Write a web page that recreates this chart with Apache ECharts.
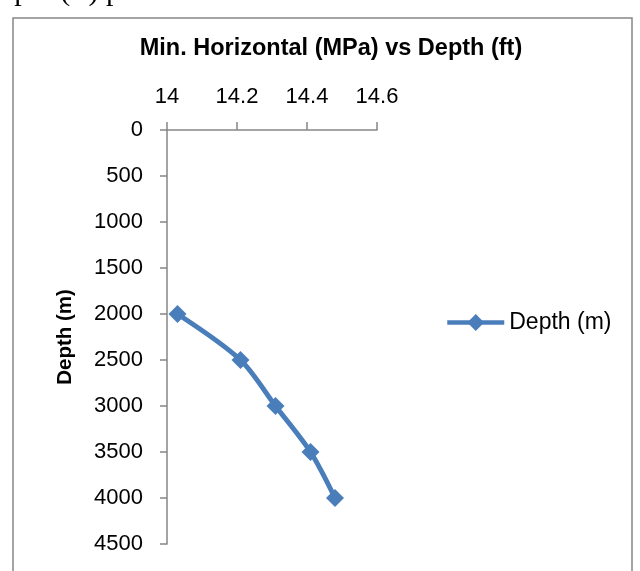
<!DOCTYPE html>
<html>
<head>
<meta charset="utf-8">
<script src="https://cdn.jsdelivr.net/npm/echarts@6/dist/echarts.min.js"></script>
<style>
  html, body { margin: 0; padding: 0; background: #fff; }
  #chart { width: 640px; height: 571px; }
</style>
</head>
<body>
<div id="chart"></div>
<script>
const seriesName = "Depth (m)";
const minHorizontal = [14.03, 14.21, 14.31, 14.41, 14.48];
const depths = [2000, 2500, 3000, 3500, 4000];
const xTicks = [14, 14.2, 14.4, 14.6];
const yTicks = [0, 500, 1000, 1500, 2000, 2500, 3000, 3500, 4000, 4500];

const blue = "#4a7ebb";
const axisGrey = "#868686";
const font = "'Liberation Sans', Arial, sans-serif";

const chart = echarts.init(document.getElementById("chart"));

chart.setOption({
  animation: false,
  backgroundColor: "#fff",
  title: {
    text: "Min. Horizontal (MPa) vs Depth (ft)",
    left: 326,
    top: 32,
    textAlign: "center",
    textStyle: { fontFamily: font, fontSize: 23.5, fontWeight: "bold", color: "#000" },
  },
  graphic: [
    {
      type: "rect",
      shape: { x: 13, y: 18, width: 619, height: 570 },
      style: { fill: "none", stroke: axisGrey, lineWidth: 1.5 },
      silent: true,
    },
    {
      type: "text",
      x: -14,
      y: 7,
      style: {
        text: "depth (ft) plot",
        font: "30px 'Liberation Serif', serif",
        fill: "#000",
        verticalAlign: "bottom",
      },
      silent: true,
    },
  ],
  legend: {
    data: [seriesName],
    left: 440,
    top: 306,
    itemWidth: 57,
    itemHeight: 21,
    itemGap: 4,
    lineStyle: { width: 4.5 },
    textStyle: { fontFamily: font, fontSize: 23, color: "#000", padding: [0, 0, 0, 0] },
  },
  grid: { left: 167, right: 263, top: 130, bottom: 27 },
  xAxis: {
    type: "value",
    position: "top",
    min: xTicks[0],
    max: xTicks[xTicks.length - 1],
    interval: 0.2,
    axisLine: { lineStyle: { color: axisGrey, width: 1.5 } },
    axisTick: { show: true, inside: false, length: 8, lineStyle: { color: axisGrey, width: 1.5 } },
    axisLabel: {
      margin: 22,
      fontFamily: font,
      fontSize: 22,
      color: "#000",
      formatter: (v) => String(+v.toFixed(1)),
    },
    splitLine: { show: false },
  },
  yAxis: {
    type: "value",
    inverse: true,
    min: yTicks[0],
    max: yTicks[yTicks.length - 1],
    interval: 500,
    name: seriesName,
    nameLocation: "middle",
    nameRotate: 90,
    nameGap: 91,
    nameTextStyle: { fontFamily: font, fontSize: 20.5, fontWeight: "bold", color: "#000" },
    axisLine: { onZero: false, lineStyle: { color: axisGrey, width: 1.5 } },
    axisTick: { show: true, inside: false, length: 7, lineStyle: { color: axisGrey, width: 1.5 } },
    axisLabel: {
      margin: 24,
      fontFamily: font,
      fontSize: 22,
      color: "#000",
      formatter: (v) => String(v),
    },
    splitLine: { show: false },
  },
  series: [
    {
      name: seriesName,
      type: "line",
      smooth: 0.3,
      data: minHorizontal.map((x, i) => [x, depths[i]]),
      symbol: "diamond",
      symbolSize: 18,
      itemStyle: { color: blue },
      lineStyle: { color: blue, width: 5 },
    },
  ],
});
</script>
</body>
</html>
